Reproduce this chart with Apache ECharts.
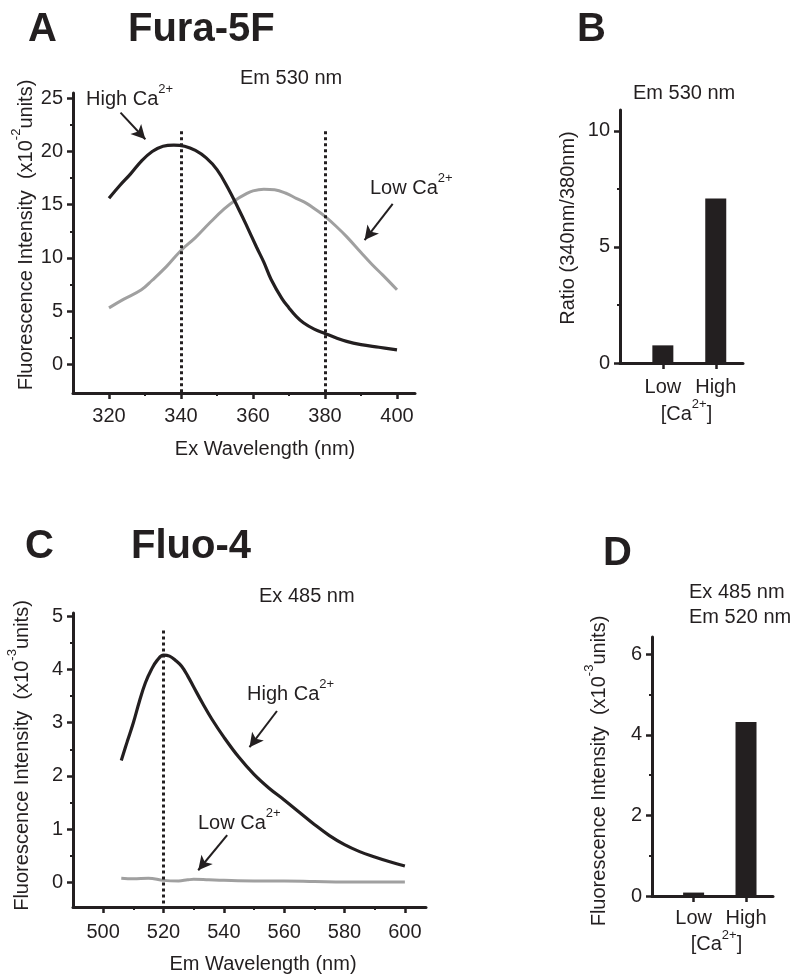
<!DOCTYPE html>
<html>
<head>
<meta charset="utf-8">
<script src="https://cdn.jsdelivr.net/npm/echarts@6/dist/echarts.min.js"></script>
<style>html,body{margin:0;background:#fff}#chart{width:800px;height:980px}</style>
</head>
<body>
<div id="chart"></div>
<script>
// A: Fura-5F excitation spectra, Em 530 nm
const furaHighWl = [320, 323, 326, 329, 332, 335, 338, 341, 344, 347, 350, 353, 356, 358, 361, 363, 365, 368, 370, 372, 374, 377, 380, 383, 386, 390, 395, 400];
const furaHigh = [15.6, 16.8, 17.9, 19.1, 20.0, 20.5, 20.6, 20.5, 20.1, 19.4, 18.3, 16.6, 14.6, 13.2, 11.0, 9.6, 8.0, 6.2, 5.3, 4.5, 3.9, 3.3, 2.9, 2.5, 2.15, 1.85, 1.6, 1.35];
const furaLowWl = [320, 324, 329, 332, 336, 340, 344, 348, 352, 355, 358, 360, 363, 366, 369, 372, 375, 378, 380, 383, 386, 390, 393, 396, 400];
const furaLow = [5.3, 6.1, 7.0, 7.9, 9.2, 10.7, 11.9, 13.3, 14.6, 15.4, 16.0, 16.3, 16.45, 16.4, 16.1, 15.6, 15.1, 14.4, 13.9, 13.0, 12.0, 10.5, 9.4, 8.4, 7.0];
const furaMarkers = [340, 380];   // dotted excitation lines

// B: ratio 340/380
const calcium = ['Low', 'High'];
const ratioValues = [0.76, 7.09];

// C: Fluo-4 emission spectra, Ex 485 nm
const fluoHighWl = [506, 508, 510, 512, 514, 516, 518, 520, 522, 524, 526, 528, 530, 533, 536, 540, 545, 550, 555, 560, 565, 570, 575, 580, 585, 590, 595, 600];
const fluoHigh = [2.29, 2.65, 3.0, 3.4, 3.75, 4.0, 4.18, 4.27, 4.25, 4.17, 4.06, 3.88, 3.67, 3.36, 3.07, 2.73, 2.35, 2.03, 1.77, 1.55, 1.32, 1.09, 0.88, 0.71, 0.58, 0.48, 0.39, 0.31];
const fluoLowWl = [506, 510, 515, 520, 525, 528, 530, 535, 540, 550, 560, 570, 580, 590, 600];
const fluoLow = [0.08, 0.07, 0.08, 0.04, 0.03, 0.05, 0.06, 0.05, 0.04, 0.03, 0.03, 0.02, 0.01, 0.01, 0.01];
const fluoMarkers = [520];

// D: intensity at Em 520 nm
const intensityValues = [0.085, 4.32];

// tick labels
const ticksAxMajor = [320, 340, 360, 380, 400], ticksAxMinor = [330, 350, 370, 390];
const ticksAyMajor = [0, 5, 10, 15, 20, 25], ticksAyMinor = [2.5, 7.5, 12.5, 17.5, 22.5];
const ticksByMajor = [0, 5, 10], ticksByMinor = [2.5, 7.5];
const ticksCxMajor = [500, 520, 540, 560, 580, 600], ticksCxMinor = [510, 530, 550, 570, 590];
const ticksCyMajor = [0, 1, 2, 3, 4, 5], ticksCyMinor = [0.5, 1.5, 2.5, 3.5, 4.5];
const ticksDyMajor = [0, 2, 4, 6], ticksDyMinor = [1, 3, 5];

const INK = '#231f20', GREY = '#a0a0a0', FONT = 'Liberation Sans, Arial, sans-serif';
const pairs = (xs, ys) => xs.map((x, i) => [x, ys[i]]);
const sup = { m: { fontSize: 20, lineHeight: 26, verticalAlign: 'bottom', fontFamily: FONT, color: INK },
              s: { fontSize: 13, lineHeight: 13, verticalAlign: 'top', fontFamily: FONT, color: INK } };

function mainAxis(grid, min, max, major, extra) {
  return Object.assign({
    type: 'value', gridIndex: grid, min: min, max: max,
    axisLine: { show: true, onZero: false, lineStyle: { color: INK, width: 3 } },
    axisTick: { show: true, customValues: major, length: 6, lineStyle: { color: INK, width: 2.5 } },
    axisLabel: { customValues: major, color: INK, fontSize: 20, fontFamily: FONT, margin: 10 },
    splitLine: { show: false },
    nameTextStyle: { color: INK, fontSize: 20, fontFamily: FONT, rich: sup }
  }, extra || {});
}
function minorAxis(grid, min, max, minor, pos) {
  return {
    type: 'value', gridIndex: grid, min: min, max: max, position: pos,
    axisLine: { show: false, onZero: false },
    axisTick: { show: true, customValues: minor, length: 3, lineStyle: { color: INK, width: 2 } },
    axisLabel: { show: false }, splitLine: { show: false }
  };
}
function vline(x, top, bottom) {
  return [{ coord: [x, top], symbol: 'none', lineStyle: { type: [3, 3], width: 3, color: INK, cap: 'butt' } },
          { coord: [x, bottom], symbol: 'none' }];
}
function arrow(from, to) {
  return [{ coord: from, symbol: 'none', lineStyle: { type: 'solid', width: 2, color: INK } },
          { coord: to, symbol: 'arrow', symbolSize: [11, 14] }];
}
function markLines(items) {
  return { silent: true, animation: false, symbol: 'none', label: { show: false },
           emphasis: { disabled: true }, data: items };
}
function txt(x, y, text, opts) {
  return { type: 'text', x: x, y: y, silent: true,
    style: Object.assign({ text: text, fill: INK, font: '20px ' + FONT, textAlign: 'left', textVerticalAlign: 'middle', rich: sup }, opts || {}) };
}
const bold = { font: 'bold 40px ' + FONT };
const nameStyle = pad => ({ color: INK, fontSize: 20, fontFamily: FONT, rich: sup, padding: pad });

const option = {
  backgroundColor: '#fff',
  animation: false,
  grid: [
    { left: 73, top: 93, width: 342, height: 300, outerBoundsMode: 'none' },
    { left: 620, top: 110, width: 123, height: 253, outerBoundsMode: 'none' },
    { left: 73, top: 613, width: 353, height: 294, outerBoundsMode: 'none' },
    { left: 652, top: 637, width: 121, height: 259, outerBoundsMode: 'none' }
  ],
  xAxis: [
    mainAxis(0, 310, 405, ticksAxMajor, { name: 'Ex Wavelength (nm)', nameLocation: 'middle', nameGap: 46,
      axisLabel: { customValues: ticksAxMajor, color: INK, fontSize: 20, fontFamily: FONT, margin: 13 },
      nameTextStyle: nameStyle([0, 0, 0, 42]) }),
    minorAxis(0, 310, 405, ticksAxMinor, 'bottom'),
    mainAxis(1, 0.19, 2.515, [1, 2], { name: '{m|[Ca}{s|2+}{m|]}', nameLocation: 'middle', nameGap: 35,
      axisLabel: { customValues: [1, 2], color: INK, fontSize: 20, fontFamily: FONT, margin: 14, formatter: v => calcium[v - 1] },
      nameTextStyle: nameStyle([0, 0, 0, 10]) }),
    mainAxis(2, 490, 607, ticksCxMajor, { name: 'Em Wavelength (nm)', nameLocation: 'middle', nameGap: 47,
      axisLabel: { customValues: ticksCxMajor, color: INK, fontSize: 20, fontFamily: FONT, margin: 15 },
      nameTextStyle: nameStyle([0, 0, 0, 27]) }),
    minorAxis(2, 490, 607, ticksCxMinor, 'bottom'),
    mainAxis(3, 0.206, 2.515, [1, 2], { name: '{m|[Ca}{s|2+}{m|]}', nameLocation: 'middle', nameGap: 32,
      axisLabel: { customValues: [1, 2], color: INK, fontSize: 20, fontFamily: FONT, margin: 12, formatter: v => calcium[v - 1] },
      nameTextStyle: nameStyle([0, 0, 0, 8]) })
  ],
  yAxis: [
    mainAxis(0, -2.7, 25.5, ticksAyMajor, { position: 'left', name: '{m|Fluorescence Intensity  (x10}{s|-2}{m|units)}',
      nameLocation: 'middle', nameGap: 37, nameRotate: 90, nameTextStyle: nameStyle([0, 0, 0, 16]) }),
    minorAxis(0, -2.7, 25.5, ticksAyMinor, 'left'),
    mainAxis(1, 0, 10.9, ticksByMajor, { position: 'left', name: 'Ratio (340nm/380nm)',
      nameLocation: 'middle', nameGap: 42, nameRotate: 90, nameTextStyle: nameStyle([0, 0, 0, 17]) }),
    minorAxis(1, 0, 10.9, ticksByMinor, 'left'),
    mainAxis(2, -0.46, 5.06, ticksCyMajor, { position: 'left', name: '{m|Fluorescence Intensity  (x10}{s|-3}{m|units)}',
      nameLocation: 'middle', nameGap: 41, nameRotate: 90, nameTextStyle: nameStyle([0, 0, 0, 9]) }),
    minorAxis(2, -0.46, 5.06, ticksCyMinor, 'left'),
    mainAxis(3, 0, 6.43, ticksDyMajor, { position: 'left', name: '{m|Fluorescence Intensity  (x10}{s|-3}{m|units)}',
      nameLocation: 'middle', nameGap: 43, nameRotate: 90, nameTextStyle: nameStyle([0, 9, 0, 0]) }),
    minorAxis(3, 0, 6.43, ticksDyMinor, 'left')
  ],
  series: [
    { name: 'Fura-5F Low Ca', type: 'line', xAxisIndex: 0, yAxisIndex: 0, data: pairs(furaLowWl, furaLow),
      showSymbol: false, smooth: 0.4, lineStyle: { color: GREY, width: 3 }, z: 2,
      markLine: markLines([arrow([398.8, 15.07], [391.0, 11.68])]) },
    { name: 'Fura-5F High Ca', type: 'line', xAxisIndex: 0, yAxisIndex: 0, data: pairs(furaHighWl, furaHigh),
      showSymbol: false, smooth: 0.4, lineStyle: { color: INK, width: 3.2 }, z: 3,
      markLine: markLines(furaMarkers.map(x => vline(x, 21.9, -2.7)).concat([arrow([323.2, 23.65], [330.1, 21.15])])) },
    { name: 'Ratio', type: 'bar', xAxisIndex: 2, yAxisIndex: 2, data: pairs([1, 2], ratioValues),
      barWidth: 21, itemStyle: { color: INK } },
    { name: 'Fluo-4 Low Ca', type: 'line', xAxisIndex: 3, yAxisIndex: 4, data: pairs(fluoLowWl, fluoLow),
      showSymbol: false, smooth: 0.4, lineStyle: { color: GREY, width: 3 }, z: 2,
      markLine: markLines([arrow([541.1, 0.89], [531.5, 0.23])]) },
    { name: 'Fluo-4 High Ca', type: 'line', xAxisIndex: 3, yAxisIndex: 4, data: pairs(fluoHighWl, fluoHigh),
      showSymbol: false, smooth: 0.4, lineStyle: { color: INK, width: 3.2 }, z: 3,
      markLine: markLines(fluoMarkers.map(x => vline(x, 4.73, -0.46)).concat([arrow([557.6, 3.22], [548.5, 2.54])])) },
    { name: 'Intensity', type: 'bar', xAxisIndex: 5, yAxisIndex: 6, data: pairs([1, 2], intensityValues),
      barWidth: 21, itemStyle: { color: INK } }
  ],
  graphic: [
    txt(28, 30, 'A', bold), txt(128, 30, 'Fura-5F', bold), txt(577, 30, 'B', bold),
    txt(25, 547, 'C', bold), txt(131, 547, 'Fluo-4', bold), txt(603, 554, 'D', bold),
    txt(240, 78, 'Em 530 nm'), txt(633, 93, 'Em 530 nm'),
    txt(259, 596, 'Ex 485 nm'), txt(689, 592, 'Ex 485 nm'), txt(689, 617, 'Em 520 nm'),
    txt(86, 96, '{m|High Ca}{s|2+}'), txt(370, 185, '{m|Low Ca}{s|2+}'),
    txt(247, 691, '{m|High Ca}{s|2+}'), txt(198, 820, '{m|Low Ca}{s|2+}')
  ]
};

echarts.init(document.getElementById('chart')).setOption(option);
</script>
</body>
</html>
